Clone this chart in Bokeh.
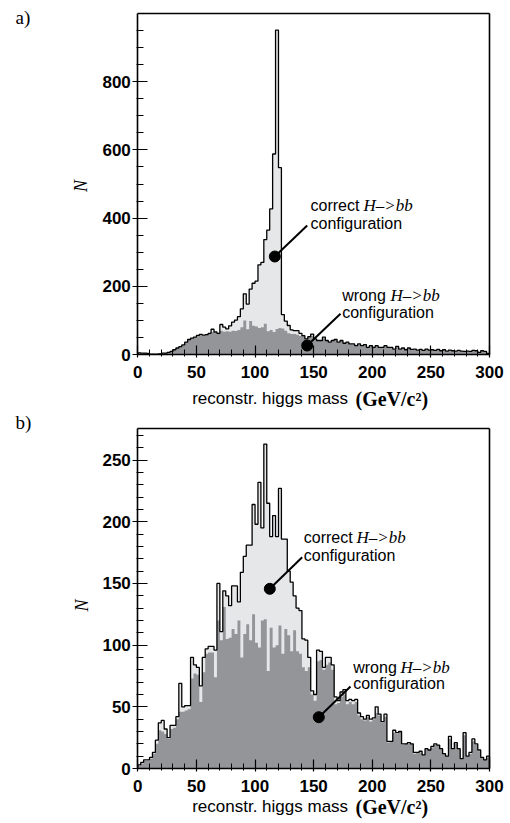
import numpy as np
from math import pi
from bokeh.plotting import figure
from bokeh.layouts import column
from bokeh.models import FixedTicker, Label, Range1d, LinearAxis
from bokeh.embed import file_html
from bokeh.resources import INLINE

# ---------------- data ----------------
bin_width = 2.5  # GeV, 120 bins from 0 to 300
x_max = 300

total_a = [5, 4, 4, 3, 1, 1, 1, 2, 4, 4,
           6, 9, 14, 19, 23, 28, 36, 44, 48, 51,
           56, 59, 57, 58, 62, 74, 66, 62, 88, 80,
           75, 84, 95, 101, 111, 134, 178, 148, 192, 209,
           215, 263, 270, 337, 365, 427, 588, 951, 548, 117,
           98, 85, 72, 70, 70, 62, 55, 46, 52, 60,
           46, 41, 41, 51, 41, 36, 41, 44, 36, 41,
           33, 36, 31, 31, 26, 31, 26, 29, 21, 26,
           21, 26, 21, 21, 26, 21, 21, 16, 24, 16,
           19, 14, 19, 15, 16, 13, 15, 12, 16, 13,
           14, 12, 15, 11, 14, 10, 13, 11, 10, 12,
           10, 9, 10, 9, 12, 11, 6, 11, 9, 3]

wrong_a = [5, 4, 4, 3, 1, 1, 1, 2, 4, 4,
           6, 9, 14, 19, 23, 28, 36, 44, 47, 50,
           55, 58, 56, 57, 60, 66, 63, 60, 70, 67,
           68, 67, 70, 69, 72, 80, 100, 74, 98, 84,
           82, 78, 80, 90, 68, 72, 66, 75, 78, 76,
           70, 62, 60, 60, 58, 54, 52, 44, 50, 55,
           44, 40, 40, 48, 40, 35, 40, 42, 35, 40,
           32, 35, 30, 30, 25, 30, 25, 28, 20, 25,
           20, 25, 20, 20, 25, 20, 20, 15, 22, 15,
           18, 13, 18, 14, 15, 12, 14, 11, 15, 12,
           13, 11, 14, 10, 13, 9, 12, 10, 9, 11,
           9, 8, 9, 8, 11, 10, 5, 10, 8, 3]

total_b = [3, 5, 7, 7, 9, 13, 23, 37, 39, 32,
           25, 35, 35, 42, 69, 50, 51, 51, 90, 84,
           82, 67, 90, 97, 99, 99, 96, 150, 111, 144,
           140, 132, 148, 148, 135, 159, 172, 181, 181, 214,
           198, 232, 195, 263, 215, 188, 205, 188, 227, 186,
           186, 160, 151, 140, 130, 128, 105, 104, 90, 63,
           60, 96, 95, 82, 90, 90, 84, 58, 55, 62,
           64, 55, 56, 55, 56, 45, 42, 40, 43, 40,
           41, 50, 44, 38, 44, 22, 22, 31, 29, 30,
           20, 20, 21, 20, 13, 13, 14, 11, 16, 15,
           18, 20, 19, 16, 12, 10, 26, 16, 21, 16,
           8, 29, 10, 13, 24, 20, 15, 9, 7, 10]

wrong_b = [2, 4, 6, 6, 8, 12, 20, 31, 30, 28,
           24, 32, 33, 40, 46, 46, 47, 48, 73, 77,
           76, 54, 78, 93, 94, 94, 74, 120, 104, 131,
           105, 106, 113, 109, 120, 90, 109, 117, 104, 125,
           102, 98, 120, 121, 79, 114, 98, 100, 116, 93,
           113, 108, 95, 112, 95, 93, 82, 79, 82, 60,
           55, 87, 88, 80, 84, 86, 80, 52, 53, 58,
           60, 52, 54, 52, 54, 43, 40, 39, 42, 38,
           40, 45, 43, 37, 42, 21, 22, 29, 28, 30,
           19, 20, 20, 20, 12, 13, 13, 11, 15, 15,
           17, 19, 19, 15, 12, 10, 24, 15, 20, 15,
           8, 27, 10, 12, 22, 19, 14, 9, 7, 9]

x_ticks = [0, 50, 100, 150, 200, 250, 300]
y_ticks_a = [0, 200, 400, 600, 800]
y_ticks_b = [0, 50, 100, 150, 200, 250]

x_title = "reconstr. higgs mass"
x_unit = "(GeV/c\u00b2)"
y_title = "N"
lbl_correct = "correct"
lbl_wrong = "wrong"
lbl_hbb = "H\u2013>bb"
lbl_conf = "configuration"

LIGHT = "#e6e7e8"
DARK = "#939598"
SANS = "Liberation Sans"
SERIF = "Liberation Serif"

PAGE_W = 510
PX_X0, PX_X1 = 137.3, 489.0      # page x of 0 and 300 GeV


class Panel:
    """pixel layout of one panel (page coordinates)"""
    def __init__(self, top, height, y0_px, ytop_px, ymax):
        self.top, self.height = top, height
        self.y0_px, self.ytop_px, self.ymax = y0_px, ytop_px, ymax
        self.kx = (PX_X1 - PX_X0) / x_max
        self.ky = (y0_px - ytop_px) / ymax

    def dx(self, px):
        return (px - PX_X0) / self.kx

    def dy(self, py):
        return (self.y0_px - py) / self.ky


def make_panel(total, wrong, yticks, yminor, L, ann):
    p = figure(width=PAGE_W, height=L.height, output_backend="svg",
               toolbar_location=None, title=None,
               x_axis_location=None, y_axis_location=None,
               x_range=Range1d(L.dx(0), L.dx(PAGE_W)),
               y_range=Range1d(L.dy(L.top + L.height), L.dy(L.top)),
               min_border=0)
    p.min_border_left = p.min_border_right = 0
    p.min_border_top = p.min_border_bottom = 0
    p.outline_line_color = None
    p.background_fill_color = "white"
    p.border_fill_color = "white"
    p.grid.visible = False
    p.xgrid.visible = False
    p.ygrid.visible = False

    n = len(total)
    edges = np.arange(n + 1) * bin_width
    t = np.array(total, dtype=float)
    w = np.array(wrong, dtype=float)

    p.varea_step(x=edges, y1=0, y2=np.append(t, t[-1]), step_mode="after",
                 fill_color=LIGHT)
    p.varea_step(x=edges, y1=0, y2=np.append(w, w[-1]), step_mode="after",
                 fill_color=DARK)
    xs = np.repeat(edges, 2)
    ys = np.concatenate([[0], np.repeat(t, 2), [0]])
    p.line(xs, ys, line_color="black", line_width=1.3)

    ymax = L.ymax
    xaxis = LinearAxis(fixed_location=0, bounds=(0, x_max),
                       ticker=FixedTicker(ticks=x_ticks,
                                          minor_ticks=list(range(0, x_max + 1, 10))))
    yaxis = LinearAxis(fixed_location=0, bounds=(0, ymax),
                       ticker=FixedTicker(ticks=yticks,
                                          minor_ticks=list(np.arange(0, ymax, yminor))))
    for ax in (xaxis, yaxis):
        ax.axis_line_width = 1.6
        ax.major_tick_line_width = 1.2
        ax.minor_tick_line_width = 1.0
        ax.major_label_text_font = SANS
        ax.major_label_text_font_style = "bold"
        ax.major_label_text_font_size = "17px"
        ax.major_label_text_color = "black"
    xaxis.major_tick_in = 9
    xaxis.major_tick_out = 3
    xaxis.minor_tick_in = 5
    xaxis.minor_tick_out = 2
    xaxis.major_label_standoff = 8
    yaxis.major_tick_in = 10
    yaxis.major_tick_out = 5
    yaxis.minor_tick_in = 6
    yaxis.minor_tick_out = 1
    yaxis.major_label_standoff = 2
    p.add_layout(xaxis, "below")
    p.add_layout(yaxis, "left")
    # closing edges of the box
    top_edge = LinearAxis(fixed_location=ymax, bounds=(0, x_max),
                          ticker=FixedTicker(ticks=[]), axis_line_width=1.6)
    right_edge = LinearAxis(fixed_location=x_max, bounds=(0, ymax),
                            ticker=FixedTicker(ticks=[]), axis_line_width=1.6)
    p.add_layout(top_edge, "above")
    p.add_layout(right_edge, "right")

    def lab(x, y, text, font, size, style="normal", align="left",
            base="alphabetic", angle=0):
        p.add_layout(Label(x=x, y=y, text=text, text_font=font, text_font_size=size,
                           text_font_style=style, text_align=align,
                           text_baseline=base, angle=angle, text_color="black"))

    # pointers and texts (positions given in page pixels)
    (cdot, cend, ctxt, cbase1, cbase2, chx,
     wdot, wend, wtxt, wbase1, wbase2, whx,
     tx, ux, tbase, npos, ppos, ptxt) = ann
    p.line([L.dx(cdot[0]), L.dx(cend[0])], [L.dy(cdot[1]), L.dy(cend[1])],
           line_color="black", line_width=2)
    p.line([L.dx(wdot[0]), L.dx(wend[0])], [L.dy(wdot[1]), L.dy(wend[1])],
           line_color="black", line_width=2)
    p.scatter([L.dx(cdot[0]), L.dx(wdot[0])], [L.dy(cdot[1]), L.dy(wdot[1])],
              size=11, color="black")

    lab(L.dx(ctxt), L.dy(cbase1), lbl_correct, SANS, "16px")
    lab(L.dx(chx), L.dy(cbase1), lbl_hbb, SERIF, "17px", style="italic")
    lab(L.dx(ctxt), L.dy(cbase2), lbl_conf, SANS, "16px")
    lab(L.dx(wtxt), L.dy(wbase1), lbl_wrong, SANS, "16px")
    lab(L.dx(whx), L.dy(wbase1), lbl_hbb, SERIF, "17px", style="italic")
    lab(L.dx(wtxt), L.dy(wbase2), lbl_conf, SANS, "16px")
    lab(L.dx(tx), L.dy(tbase), x_title, SANS, "17px")
    lab(L.dx(ux), L.dy(tbase), x_unit, SERIF, "20px", style="bold")
    lab(L.dx(npos[0]), L.dy(npos[1]), y_title, SERIF, "18px", style="italic",
        align="center", base="middle", angle=pi / 2)
    lab(L.dx(ppos[0]), L.dy(ppos[1]), ptxt, SERIF, "19px", base="top")
    return p


LA = Panel(top=0, height=411, y0_px=354.0, ytop_px=13.0, ymax=1000)
LB = Panel(top=411, height=410, y0_px=768.0, ytop_px=427.5, ymax=276)

ann_a = ((274.3, 256.0), (306.7, 225.0), 310.0, 205.0, 222.7, 363.0,
         (306.7, 345.0), (340.0, 313.3), 341.7, 295.0, 311.7, 390.0,
         191.7, 355.0, 398.0, (80.0, 185.5), (15.0, 6.0), "a)")
ann_b = ((269.3, 588.3), (301.7, 556.7), 303.3, 537.3, 555.0, 356.0,
         (318.3, 716.7), (350.0, 686.0), 352.7, 666.7, 683.3, 400.0,
         191.7, 355.0, 806.0, (81.0, 605.0), (15.0, 411.5), "b)")

pa = make_panel(total_a, wrong_a, y_ticks_a, 50, LA, ann_a)
pb = make_panel(total_b, wrong_b, y_ticks_b, 10, LB, ann_b)

layout = column(pa, pb, spacing=0)
open("out.html", "w").write(file_html(layout, INLINE))
